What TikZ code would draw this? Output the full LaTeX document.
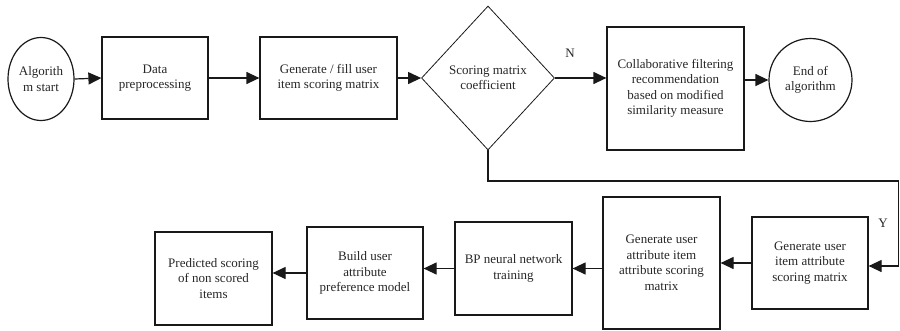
\documentclass[tikz,border=0pt]{standalone}
\usepackage{fontspec}
\setmainfont{Liberation Serif}
\usetikzlibrary{shapes.geometric,arrows.meta}
\begin{document}
\begin{tikzpicture}[x=1pt,y=-1pt,
  every node/.style={font=\fontsize{13}{15.5}\selectfont, text=black!85, align=center, inner sep=0pt},
  box/.style={draw=black!90, line width=1.2pt, rectangle},
  oval/.style={draw=black!90, line width=1.2pt, ellipse},
  dia/.style={draw=black!90, line width=0.8pt, diamond},
  arr/.style={draw=black!90, line width=1.2pt, -{Triangle[length=13pt,width=12pt]}},
  conn/.style={draw=black!90, line width=1.2pt}]
\useasboundingbox (0,0) rectangle (900,330);
% top row
\node[oval, minimum width=66pt, minimum height=83pt] (start) at (41,79) {Algorith\\m start};
\node[box, minimum width=106pt, minimum height=82pt] (prep) at (155,78) {Data\\preprocessing};
\node[box, minimum width=137pt, minimum height=82pt] (gen) at (328.5,78) {Generate / fill user\\item scoring matrix};
\node[dia, minimum width=133pt, minimum height=144pt] (dec) at (488,78) {Scoring matrix\\coefficient};
\node[box, minimum width=137pt, minimum height=123pt] (cf) at (675.5,88.5) {Collaborative filtering\\recommendation\\based on modified\\similarity measure};
\node[oval, minimum width=83pt, minimum height=83pt] (endn) at (810.5,80) {End of\\algorithm};
% bottom row
\node[box, minimum width=116pt, minimum height=92pt] (uia) at (810,263) {Generate user\\item attribute\\scoring matrix};
\node[box, minimum width=117pt, minimum height=132pt] (uaia) at (661.5,263) {Generate user\\attribute item\\attribute scoring\\matrix};
\node[box, minimum width=117pt, minimum height=93pt] (bp) at (513.5,268.5) {BP neural network\\training};
\node[box, minimum width=116pt, minimum height=92pt] (build) at (365,273) {Build user\\attribute\\preference model};
\node[box, minimum width=117pt, minimum height=93pt] (pred) at (213.5,278.5) {Predicted scoring\\of non scored\\items};
% labels
\node (nlab) at (570,53) {N};
\node (ylab) at (883,223) {Y};
% connectors
\draw[arr] (start.east) -- (prep.west);
\draw[arr] (prep.east) -- (gen.west);
\draw[arr] (gen.east) -- (dec.west);
\draw[arr] (dec.east) -- (cf.west |- dec.east);
\draw[arr] (cf.east |- endn.west) -- (endn.west);
\coordinate (c1) at (488,181);
\coordinate (c2) at (898.5,181);
\coordinate (c3) at (898.5,266);
\draw[arr] (dec.south) -- (c1) -- (c2) -- (c3) -- (uia.east |- c3);
\draw[arr] (uia.west) -- (uaia.east);
\draw[arr] (uaia.west |- bp.east) -- (bp.east);
\draw[arr] (bp.west) -- (bp.west -| build.east);
\draw[arr] (build.west) -- (build.west -| pred.east);
\end{tikzpicture}
\end{document}
